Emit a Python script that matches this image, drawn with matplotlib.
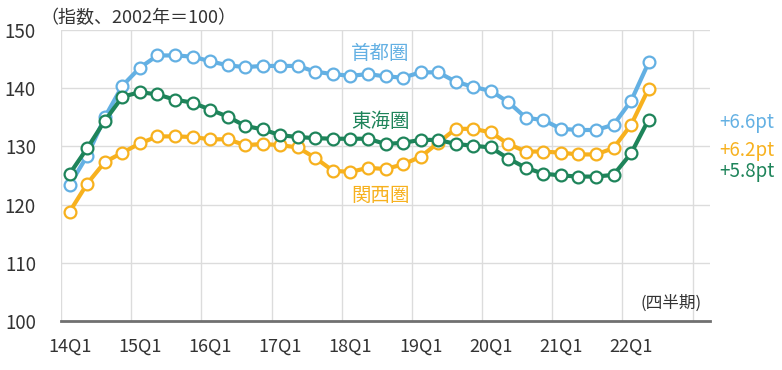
import matplotlib
matplotlib.use("Agg")
import matplotlib.pyplot as plt
import numpy as np

plt.rcParams['font.family'] = ['Noto Sans CJK JP', 'DejaVu Sans']

# quarterly index, 2002 = 100, from 14Q1 to 22Q2
quarters = [f"{y}Q{q}" for y in range(14, 23) for q in range(1, 5)][:34]
tokyo = [123.4, 128.4, 135.0, 140.4, 143.5, 145.6, 145.6, 145.4, 144.6, 143.9, 143.6, 143.8,
         143.8, 143.8, 142.8, 142.4, 142.1, 142.4, 142.0, 141.8, 142.7, 142.7, 141.1, 140.2,
         139.5, 137.6, 134.9, 134.5, 133.0, 132.8, 132.8, 133.7, 137.8, 144.4]
tokai = [125.3, 129.7, 134.4, 138.5, 139.3, 138.9, 138.0, 137.5, 136.3, 135.1, 133.5, 132.9,
         131.9, 131.6, 131.4, 131.3, 131.3, 131.3, 130.4, 130.6, 131.1, 131.1, 130.4, 130.1,
         129.8, 127.9, 126.3, 125.3, 125.0, 124.8, 124.8, 125.1, 128.8, 134.6]
kansai = [118.8, 123.6, 127.3, 128.9, 130.5, 131.7, 131.7, 131.6, 131.2, 131.2, 130.2, 130.4,
          130.2, 129.8, 128.0, 125.8, 125.6, 126.3, 126.1, 126.9, 128.2, 130.6, 133.0, 133.0,
          132.4, 130.4, 129.1, 129.1, 128.9, 128.6, 128.6, 129.7, 133.7, 139.9]
tick_labels = ["14Q1", "15Q1", "16Q1", "17Q1", "18Q1", "19Q1", "20Q1", "21Q1", "22Q1"]
changes = ["+6.6pt", "+6.2pt", "+5.8pt"]

BLUE, ORANGE, GREEN = "#63B0E3", "#F7B11E", "#1E845A"

fig = plt.figure(figsize=(7.82, 3.70), dpi=100)
ax = fig.add_axes([0.078, 0.1324, 0.830, 0.787])

x = np.arange(len(quarters))
style = dict(lw=3, marker="o", ms=8.5, mfc="white", mew=1.6, solid_joinstyle="round")
ax.plot(x, kansai, color=ORANGE, zorder=3, **style)
ax.plot(x, tokyo, color=BLUE, zorder=4, **style)
ax.plot(x, tokai, color=GREEN, zorder=5, **style)

ax.set_xlim(-0.5, 36.5)
ax.set_ylim(100, 150)
ax.set_yticks(range(100, 151, 10))
ax.set_xticks(np.arange(0, 33, 4))
ax.set_xticklabels(tick_labels)
ax.tick_params(length=0, colors="#333333")
ax.tick_params(axis="y", pad=18, labelsize=13.5)
ax.tick_params(axis="x", pad=12, labelsize=13)

for v in range(110, 151, 10):
    ax.axhline(v, color="#dcdcdc", lw=1, zorder=0)
for g in np.arange(-0.5, 36, 4):
    ax.axvline(g, color="#dcdcdc", lw=1, zorder=0)
for s in ["top", "right", "left"]:
    ax.spines[s].set_visible(False)
ax.spines["bottom"].set_color("#707070")
ax.spines["bottom"].set_linewidth(2)

ax.text(17.7, 145.9, "首都圏", color=BLUE, fontsize=14, ha="center", va="center")
ax.text(17.7, 134.2, "東海圏", color=GREEN, fontsize=14, ha="center", va="center")
ax.text(17.7, 121.5, "関西圏", color=ORANGE, fontsize=14, ha="center", va="center")

for lbl, c, yv in zip(changes, [BLUE, ORANGE, GREEN], [134.1, 129.3, 125.6]):
    ax.text(37.0, yv, lbl, color=c, fontsize=13.5, ha="left", va="center", clip_on=False)

fig.text(0.052, 0.952, "（指数、2002年＝100）", fontsize=13, color="#333333", ha="left", va="center")
ax.text(36.0, 103.0, "(四半期)", fontsize=12, color="#333333", ha="right", va="center")

fig.savefig("out.png", dpi=100)
